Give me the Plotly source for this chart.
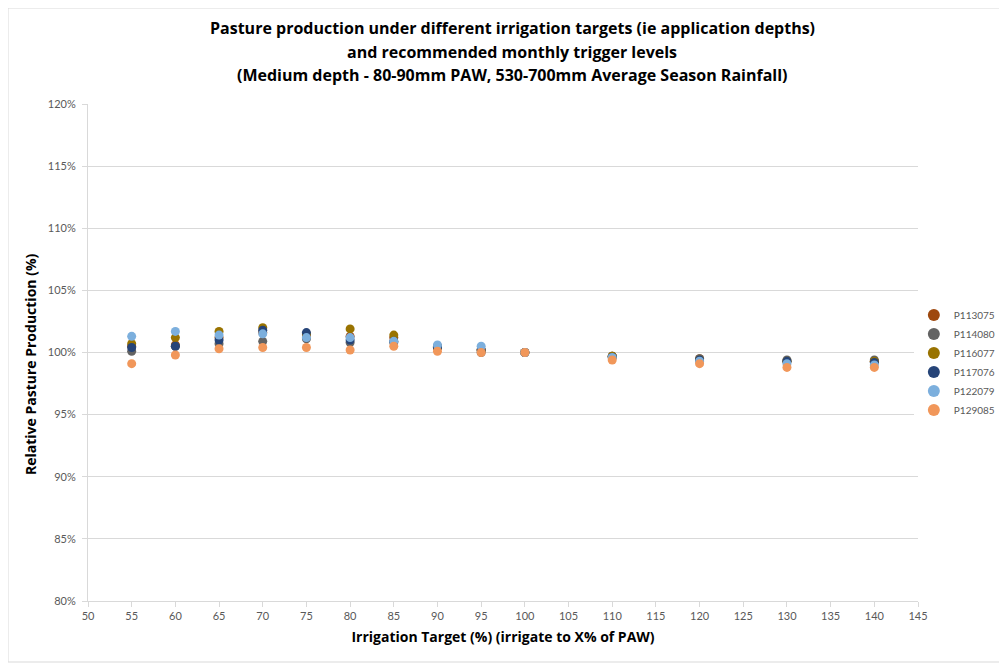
import plotly.graph_objects as go

targets = [55, 60, 65, 70, 75, 80, 85, 90, 95, 100, 110, 120, 130, 140]

series_names = ["P113075", "P114080", "P116077", "P117076", "P122079", "P129085"]
colors = ["#9E480E", "#636363", "#997300", "#264478", "#7CAFDD", "#F1975A"]

p113075 = [100.5, 100.6, 101.2, 101.6, 101.4, 101.3, 101.2, 100.5, 100.2, 100.0, 99.7, 99.5, 99.3, 99.3]
p114080 = [100.1, 100.5, 100.7, 100.9, 101.1, 100.8, 100.8, 100.4, 100.0, 100.0, 99.7, 99.5, 99.4, 99.4]
p116077 = [100.7, 101.2, 101.7, 102.0, 101.5, 101.9, 101.4, 100.4, 100.2, 100.0, 99.7, 99.4, 99.3, 99.3]
p117076 = [100.4, 100.5, 101.0, 101.8, 101.6, 101.0, 100.9, 100.4, 100.2, 100.0, 99.6, 99.4, 99.3, 99.2]
p122079 = [101.3, 101.7, 101.4, 101.5, 101.2, 101.2, 100.9, 100.6, 100.5, 100.0, 99.6, 99.3, 99.1, 99.0]
p129085 = [99.1, 99.8, 100.3, 100.4, 100.4, 100.2, 100.5, 100.1, 100.0, 100.0, 99.4, 99.1, 98.8, 98.8]

values = [p113075, p114080, p116077, p117076, p122079, p129085]

title_lines = [
    "Pasture production under different irrigation targets (ie application depths)",
    "and recommended monthly trigger levels",
    "(Medium depth - 80-90mm PAW, 530-700mm Average Season Rainfall)",
]

fig = go.Figure()
for name, col, vals in zip(series_names, colors, values):
    fig.add_trace(go.Scatter(
        x=targets, y=[v / 100 for v in vals], name=name, mode="markers",
        marker=dict(color=col, size=9),
    ))

font = "Lato, 'Open Sans', sans-serif"
bold_font = "'Open Sans', Lato, sans-serif"

# page body adds ~8px offset, so the figure is a bit smaller than the window
W, H = 999, 656
L, R, T, B = 80, 89, 96, 63
pw, ph = W - L - R, H - T - B

fig.update_layout(
    width=W, height=H,
    margin=dict(l=L, r=R, t=T, b=B, autoexpand=False),
    paper_bgcolor="white", plot_bgcolor="white",
    font=dict(family=font, size=11, color="#595959"),
    legend=dict(
        x=0.995, y=0.48, xanchor="left", yanchor="middle",
        font=dict(size=10, color="#595959"), itemsizing="constant",
        tracegroupgap=0,
    ),
    xaxis=dict(
        range=[50, 145], dtick=5, tick0=50, showgrid=False,
        showline=True, linecolor="#d9d9d9", ticks="outside", ticklen=5,
        tickcolor="#d9d9d9", zeroline=False,
        title=dict(text="<b>Irrigation Target (%) (irrigate to X% of PAW)</b>",
                   font=dict(family=bold_font, size=14, color="black"), standoff=10),
    ),
    yaxis=dict(
        range=[0.8, 1.2], dtick=0.05, tickformat=".0%", showgrid=True,
        gridcolor="#d9d9d9", showline=True, linecolor="#d9d9d9",
        ticks="outside", ticklen=5, tickcolor="#d9d9d9", zeroline=False,
        ticklabelstandoff=4,
    ),
)

for line, yf in zip(title_lines, [20, 44, 67]):
    fig.add_annotation(
        text="<b>" + line + "</b>", xref="paper", yref="paper",
        x=0.5 + 9 / pw, y=(H - B - yf) / ph, xanchor="center", yanchor="middle",
        showarrow=False, font=dict(family=bold_font, size=16, color="black"),
    )

# y axis title, sits a little below the plot centre in the original
fig.add_annotation(
    text="<b>Relative Pasture Production (%)</b>", xref="paper", yref="paper",
    x=(22 - L) / pw, y=(H - B - 356) / ph, xanchor="center", yanchor="middle",
    textangle=-90, showarrow=False,
    font=dict(family=bold_font, size=14, color="black"),
)

fig.add_shape(type="rect", xref="paper", yref="paper",
              x0=-L / pw, x1=(W - 2 - L) / pw,
              y0=-(B - 2) / ph, y1=(H - B) / ph,
              line=dict(color="#d9d9d9", width=1), layer="below")

fig.write_html("out.html")
